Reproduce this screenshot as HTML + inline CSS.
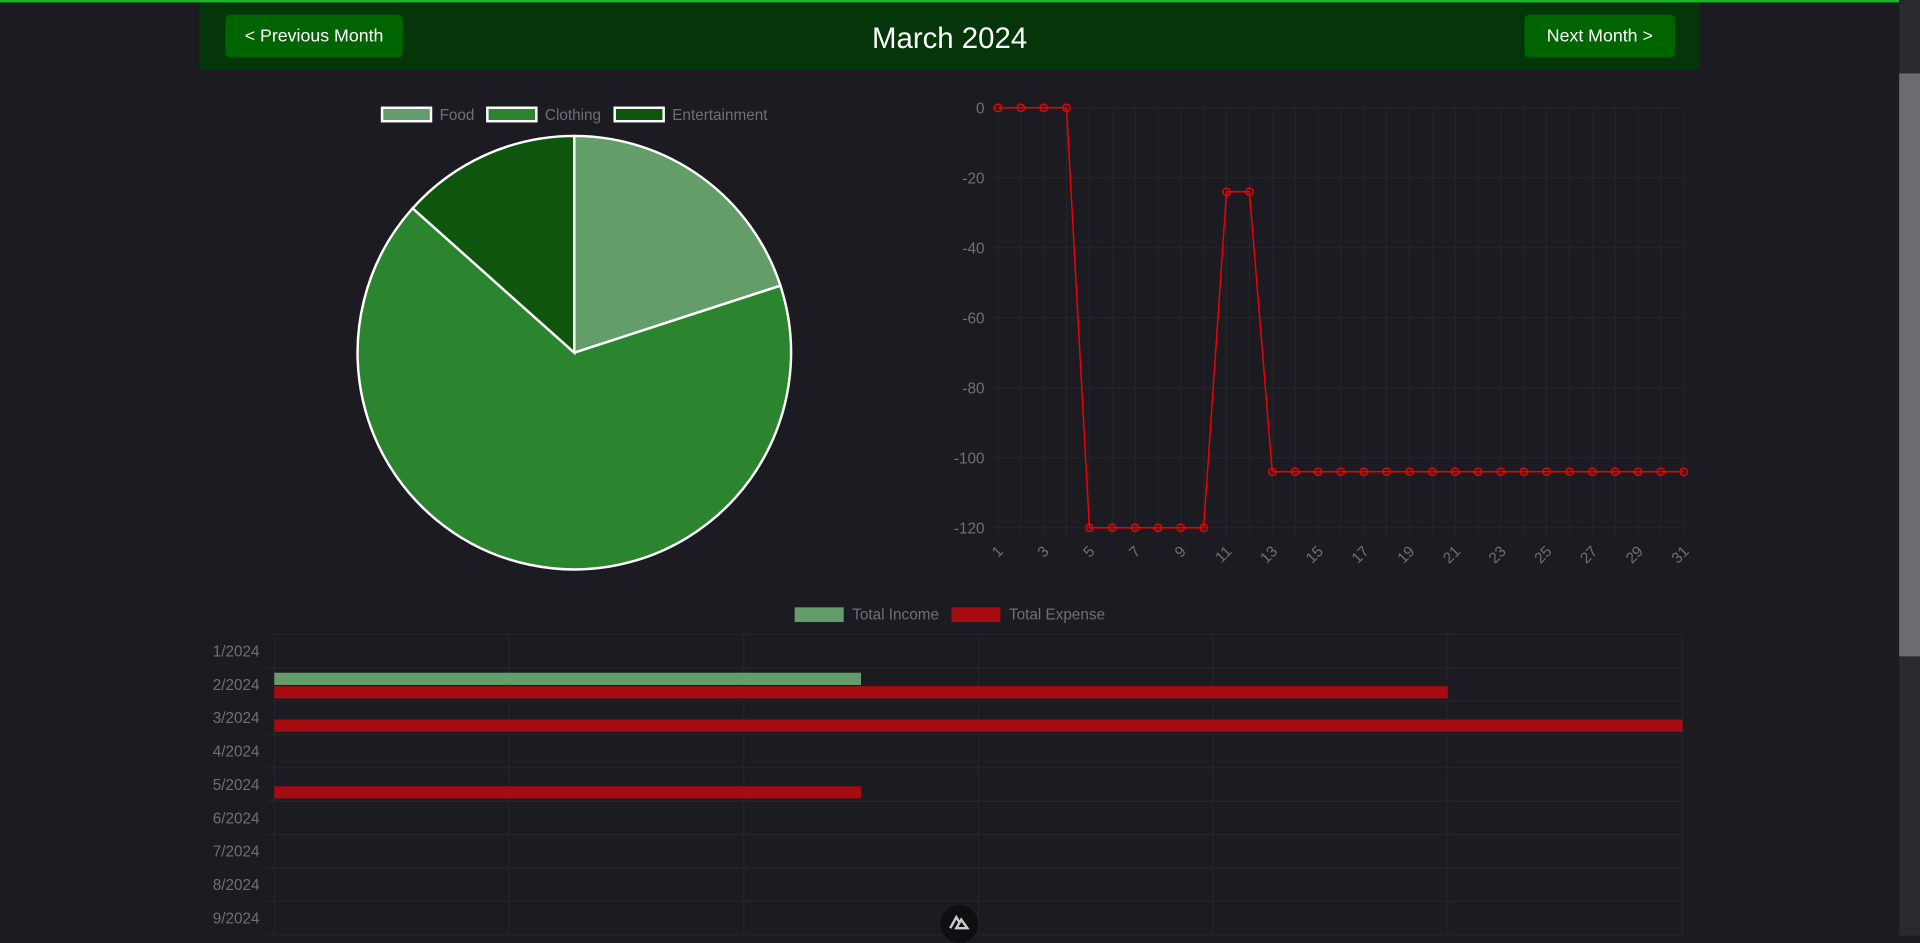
<!DOCTYPE html>
<html><head><meta charset="utf-8"><style>
html,body{margin:0;padding:0;background:#1c1b22;overflow:hidden;width:1920px;height:936px}
#wrap{position:absolute;left:0;top:0;width:1568px;height:764px;transform:scale(1.22449);transform-origin:0 0;font-family:"Liberation Sans",sans-serif}
.topline{position:absolute;left:0;top:0;width:1551px;height:1.5px;background:#1bb42a}
.header{position:absolute;left:163px;top:2px;width:1225px;height:55px;background:#05360a}
.btn{position:absolute;top:10px;height:35px;background:#006400;color:#fff;font-size:14.5px;line-height:37px;text-align:center;border-radius:4px}
.title{position:absolute;left:0;width:100%;top:16px;text-align:center;color:#fff;font-size:24px}
.sb{position:absolute;left:1551px;top:0;width:17px;height:764px;background:#2a2a2e}
.thumb{position:absolute;left:1551px;top:60px;width:17px;height:476px;background:#6b6b70}
svg text{font-family:"Liberation Sans",sans-serif}
</style></head><body>
<div id="wrap">
<div class="topline"></div>
<div class="header">
  <div class="btn" style="left:21px;width:145px">&lt; Previous Month</div>
  <div class="title">March 2024</div>
  <div class="btn" style="left:1082px;width:123px">Next Month &gt;</div>
</div>
<div class="sb"></div>
<div class="thumb"></div>
<svg id="pie" width="760" height="480" style="position:absolute;left:0;top:70px"></svg>
<svg id="line" width="800" height="420" style="position:absolute;left:760px;top:70px"></svg>
<svg id="bar" width="1400" height="280" style="position:absolute;left:0;top:484px"></svg>
<div style="position:absolute;left:768px;top:739px;width:31px;height:31px;border-radius:50%;background:#0f0f12">
<svg width="31" height="25" viewBox="0 0 31 25"><path d="M8 19 L13 10 L16 15 M13 19 L17 12 L22 19 Z" stroke="#ccc" stroke-width="2" fill="none"/></svg></div>
</div>
<script>
const NS='http://www.w3.org/2000/svg';
function mk(p,t,a){const e=document.createElementNS(NS,t);for(const k in a)e.setAttribute(k,a[k]);p.appendChild(e);return e;}
const TXT='#6f6f74', GRID='#242429';

// ---- Pie data ----
const pieLabels=['Food','Clothing','Entertainment'];
const pieValues=[20,66.6,13.4];
const pieColors=['#639e6a','#2a852e','#0e560e'];
(function(){
 const s=document.getElementById('pie');
 const cx=469,cy=218,r=177;
 const tot=pieValues.reduce((a,b)=>a+b,0);
 let a0=-Math.PI/2;
 pieValues.forEach((v,i)=>{
  const a1=a0+v/tot*2*Math.PI;
  const x0=cx+r*Math.cos(a0),y0=cy+r*Math.sin(a0),x1=cx+r*Math.cos(a1),y1=cy+r*Math.sin(a1);
  const p=mk(s,'path',{d:`M${cx},${cy} L${x0},${y0} A${r},${r} 0 ${a1-a0>Math.PI?1:0} 1 ${x1},${y1} Z`,fill:pieColors[i],stroke:'#fff','stroke-width':2});
  
  
  a0=a1;
 });
 const lx=[311,397,501];
 pieLabels.forEach((l,i)=>{
  const g=mk(s,'g',{});
  
  
  mk(g,'rect',{x:lx[i]+1,y:18,width:40,height:11,fill:pieColors[i],stroke:'#fff','stroke-width':2});
  const t=mk(g,'text',{x:lx[i]+48,y:28,fill:TXT,'font-size':12.5});t.textContent=l;
 });
})();

// ---- Line data ----
const days=Array.from({length:31},(_,i)=>i+1);
const balance=[0,0,0,0,-120,-120,-120,-120,-120,-120,-24,-24,-104,-104,-104,-104,-104,-104,-104,-104,-104,-104,-104,-104,-104,-104,-104,-104,-104,-104,-104];
const yTicks=[0,-20,-40,-60,-80,-100,-120];
(function(){
 const s=document.getElementById('line');
 const X0=55,X1=615,Y0=18,Y1=361;
 const xs=d=>X0+(d-1)/30*(X1-X0);
 const ys=v=>Y0+(0-v)/120*(Y1-Y0);
 days.forEach(d=>mk(s,'line',{x1:xs(d),x2:xs(d),y1:Y0,y2:Y1+6,stroke:GRID,'stroke-width':1}));
 yTicks.forEach(v=>{
  mk(s,'line',{x1:X0-6,x2:X1,y1:ys(v),y2:ys(v),stroke:GRID,'stroke-width':1});
  const t=mk(s,'text',{x:X0-11,y:ys(v)+4.5,fill:TXT,'font-size':12.5,'text-anchor':'end'});t.textContent=v;
 });
 days.forEach(d=>{ if(d%2===1){
  const t=mk(s,'text',{x:xs(d)+5,y:Y1+20,fill:TXT,'font-size':12.5,'text-anchor':'end',transform:`rotate(-45 ${xs(d)+5} ${Y1+20})`});t.textContent=d;}});
 const p=mk(s,'polyline',{points:days.map((d,i)=>xs(d)+','+ys(balance[i])).join(' '),fill:'none',stroke:'#f00000','stroke-width':1.2});
 
 
 days.forEach((d,i)=>{const c=mk(s,'circle',{cx:xs(d),cy:ys(balance[i]),r:3,fill:'none',stroke:'#f00000','stroke-width':1.2});
  
  });
})();

// ---- Bar data ----
const months=['1/2024','2/2024','3/2024','4/2024','5/2024','6/2024','7/2024','8/2024','9/2024','10/2024'];
const incomeVals=[0,50,0,0,0,0,0,0,0,0];
const expenseVals=[0,100,120,0,50,0,0,0,0,0];
const xMax=120;
(function(){
 const s=document.getElementById('bar');
 const X0=224,X1=1374,T=34,band=27.25;
 const xs=v=>X0+v/xMax*(X1-X0);
 const cy=i=>T+band*(i+0.5);
 for(let k=0;k<=6;k++) mk(s,'line',{x1:xs(k*20),x2:xs(k*20),y1:T,y2:300,stroke:GRID,'stroke-width':1});
 months.forEach((m,i)=>{
  mk(s,'line',{x1:X0-6,x2:X1,y1:T+band*i,y2:T+band*i,stroke:GRID,'stroke-width':1});
  const t=mk(s,'text',{x:X0-12,y:cy(i)+4.5,fill:TXT,'font-size':12.5,'text-anchor':'end'});t.textContent=m;
  if(incomeVals[i]>0){const r=mk(s,'rect',{x:X0,y:cy(i)-9.5,width:xs(incomeVals[i])-X0,height:10,fill:'#639e6a'});
   
   }
  if(expenseVals[i]>0){const r=mk(s,'rect',{x:X0,y:cy(i)+1.5,width:xs(expenseVals[i])-X0,height:10,fill:'#a50b10'});
   
   }
 });
 const L=[['Total Income','#639e6a',649],['Total Expense','#a50b10',777]];
 L.forEach(l=>{const g=mk(s,'g',{});
  
  
  mk(g,'rect',{x:l[2],y:12,width:40,height:12,fill:l[1]});
  const t=mk(g,'text',{x:l[2]+47,y:22,fill:TXT,'font-size':12.5});t.textContent=l[0];});
})();
</script>
</body></html>
